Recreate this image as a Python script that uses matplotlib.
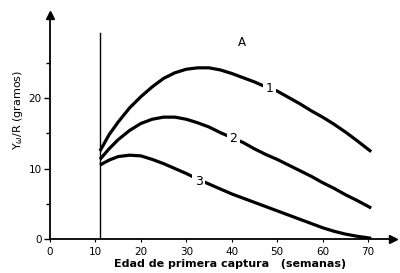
import matplotlib
matplotlib.use("Agg")
import matplotlib.pyplot as plt

x = [11, 13, 15, 17.5, 20, 22.5, 25, 27.5, 30, 32.5, 35, 37.5, 40, 42.5, 45,
     47.5, 50, 52.5, 55, 57.5, 60, 62.5, 65, 67.5, 70.7]
curve1 = [12.5, 14.8, 16.6, 18.6, 20.2, 21.6, 22.8, 23.6, 24.1, 24.3, 24.3, 24.0, 23.5,
          22.9, 22.3, 21.6, 21.0, 20.1, 19.2, 18.2, 17.3, 16.3, 15.2, 14.0, 12.4]
curve2 = [11.3, 12.8, 14.1, 15.4, 16.4, 17.0, 17.3, 17.3, 17.0, 16.5, 15.9, 15.1, 14.4,
          13.7, 12.8, 12.0, 11.3, 10.5, 9.7, 8.9, 8.0, 7.2, 6.3, 5.5, 4.4]
curve3 = [10.5, 11.2, 11.7, 11.9, 11.8, 11.3, 10.7, 10.0, 9.3, 8.5, 7.8, 7.1, 6.4,
          5.8, 5.2, 4.6, 4.0, 3.4, 2.8, 2.2, 1.6, 1.1, 0.7, 0.4, 0.1]
labels = ["1", "2", "3"]
label_pos = [(48.3, 21.4), (40.3, 14.3), (32.7, 8.2)]
xticks = [0, 10, 20, 30, 40, 50, 60, 70]
yticks = [0, 10, 20]
yminor = [5, 15, 25]

fig = plt.figure(figsize=(4.0, 2.73), dpi=100)
ax = fig.add_axes([50/400, 34/273, 343/400, 224/273])
ax.set_xlim(0, 75.5)
ax.set_ylim(0, 31.8)
for s in ["top", "right"]:
    ax.spines[s].set_visible(False)
for s in ["left", "bottom"]:
    ax.spines[s].set_linewidth(1.3)
# arrows
ax.plot([75.5], [0], marker=">", color="black", markersize=6, clip_on=False)
ax.plot([0], [31.8], marker="^", color="black", markersize=6, clip_on=False)

ax.plot([11, 11], [0, 29.2], color="black", lw=1.0)
for yv in (curve1, curve2, curve3):
    ax.plot(x, yv, color="black", lw=2.3, solid_capstyle="butt",
            solid_joinstyle="round")
for lab, (lx, ly) in zip(labels, label_pos):
    ax.text(lx, ly, lab, ha="center", va="center", fontsize=9,
            bbox=dict(facecolor="white", edgecolor="none", pad=1.8))
ax.text(42.3, 27.9, "A", ha="center", va="center", fontsize=8.5)

ax.set_xticks(xticks)
ax.set_xticklabels([str(t) for t in xticks], fontsize=7.5)
ax.set_yticks(yticks)
ax.set_yticklabels([str(t) for t in yticks], fontsize=7.5)
ax.set_yticks(yminor, minor=True)
ax.tick_params(axis="y", which="major", length=4, width=1, pad=2)
ax.tick_params(axis="y", which="minor", length=3, width=1)
ax.tick_params(axis="x", which="major", length=2, width=0.8, pad=4)

fig.text(230/400, 1 - 264/273, "Edad de primera captura   (semanas)",
         ha="center", va="center", fontsize=8, fontweight="bold")
fig.text(18/400, 1 - 110/273, r"Y$_{\omega}$/R (gramos)", rotation=90,
         ha="center", va="center", fontsize=8)

fig.savefig("out.png", dpi=100)
